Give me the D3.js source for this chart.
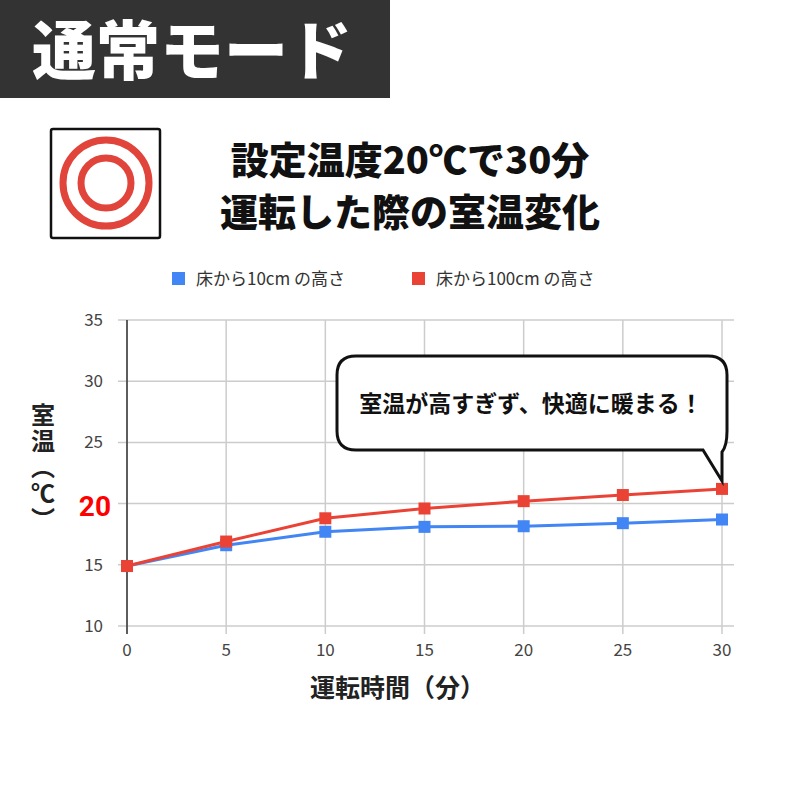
<!DOCTYPE html>
<html><head><meta charset="utf-8">
<script src="https://cdn.jsdelivr.net/npm/d3@7"></script>
<style>body{margin:0;background:#fff}text{font-family:"Noto Sans CJK JP","Noto Sans",sans-serif}</style>
</head><body>
<svg id="c" width="800" height="800"></svg>
<script>
const minutes = [0, 5, 10, 15, 20, 25, 30];
const low10 = [14.9, 16.6, 17.7, 18.1, 18.15, 18.4, 18.7];
const high100 = [14.9, 16.9, 18.8, 19.6, 20.2, 20.7, 21.2];
const seriesNames = ["床から10cmの高さ", "床から100cmの高さ"];
const colors = ["#4285f4", "#ea4335"];
const yTicks = [10, 15, 20, 25, 30, 35];

const svg = d3.select('#c');
svg.append('rect').attr('width', 800).attr('height', 800).attr('fill', '#fff');

// header
svg.append('rect').attr('x', 0).attr('y', 0).attr('width', 390).attr('height', 98).attr('fill', '#333');
svg.append('text').attr('x', 192).attr('y', 74).attr('text-anchor', 'middle')
  .attr('fill', '#fff').attr('font-size', 64).attr('font-weight', 900).text('通常モード');

// icon
svg.append('rect').attr('x', 51).attr('y', 129).attr('width', 109).attr('height', 109)
  .attr('fill', '#fff').attr('stroke', '#111').attr('stroke-width', 2.5).attr('rx', 2);
[43, 25].forEach(r => svg.append('circle').attr('cx', 106).attr('cy', 183).attr('r', r)
  .attr('fill', 'none').attr('stroke', '#e0443a').attr('stroke-width', 7));

// title
svg.append('text').attr('x', 410).attr('y', 174).attr('text-anchor', 'middle')
  .attr('font-size', 38).attr('font-weight', 900).attr('fill', '#111').text('設定温度20℃で30分');
svg.append('text').attr('x', 410).attr('y', 226).attr('text-anchor', 'middle')
  .attr('font-size', 38).attr('font-weight', 900).attr('fill', '#111').text('運転した際の室温変化');

// legend
const lg = [[172, 0], [412, 1]];
lg.forEach(([lx, i]) => {
  svg.append('rect').attr('x', lx).attr('y', 272).attr('width', 13).attr('height', 13).attr('fill', colors[i]);
  svg.append('text').attr('x', lx + 24).attr('y', 285).attr('font-size', 17).attr('fill', '#333')
    .text(seriesNames[i].replace('cm', 'cm '));
});

const x = d3.scaleLinear().domain([0, 30]).range([127, 722]);
const y = d3.scaleLinear().domain([10, 35]).range([626, 320]);

// grid
svg.append('g').selectAll('line').data(yTicks).join('line')
  .attr('x1', 118).attr('x2', 734).attr('y1', d => y(d)).attr('y2', d => y(d))
  .attr('stroke', '#ccc').attr('stroke-width', 1.5);
svg.append('g').selectAll('line').data(minutes).join('line')
  .attr('x1', d => x(d)).attr('x2', d => x(d)).attr('y1', 320).attr('y2', 634)
  .attr('stroke', '#ccc').attr('stroke-width', 1.5);
svg.append('line').attr('x1', 127).attr('x2', 127).attr('y1', 320).attr('y2', 634)
  .attr('stroke', '#333').attr('stroke-width', 1.5);

// tick labels
svg.append('g').selectAll('text').data(yTicks.filter(d => d !== 20)).join('text')
  .attr('x', 103).attr('y', d => y(d) + 6).attr('text-anchor', 'end')
  .attr('font-size', 17).attr('fill', '#444').text(d => d);
svg.append('text').attr('x', 111).attr('y', y(20) + 12).attr('text-anchor', 'end')
  .attr('font-size', 28).attr('font-weight', 700).attr('fill', '#f00')
  .style('font-family', 'Roboto').text('20');
svg.append('g').selectAll('text').data(minutes).join('text')
  .attr('x', d => x(d)).attr('y', 656).attr('text-anchor', 'middle')
  .attr('font-size', 17).attr('fill', '#444').text(d => d);

// axis titles
svg.append('text').attr('x', 310).attr('y', 697).attr('font-size', 25).attr('font-weight', 700)
  .attr('fill', '#222').text('運転時間（分）');
svg.append('text').attr('x', 43).attr('y', 403)
  .style('writing-mode', 'vertical-rl').style('letter-spacing', '2px')
  .attr('font-size', 24).attr('font-weight', 700).attr('fill', '#222').text('室温（℃）');

// series
const line = d3.line().x((d, i) => x(minutes[i])).y(d => y(d));
[low10, high100].forEach((s, k) => {
  svg.append('path').datum(s).attr('d', line).attr('fill', 'none')
    .attr('stroke', colors[k]).attr('stroke-width', 3);
  svg.append('g').selectAll('rect').data(s).join('rect')
    .attr('x', (d, i) => x(minutes[i]) - 6).attr('y', d => y(d) - 6)
    .attr('width', 12).attr('height', 12).attr('fill', colors[k]);
});

// callout
svg.append('path')
  .attr('d', 'M356,356 H708 Q727,356 727,375 V431 Q727,446 722,452 L722,481 L703,450 H356 Q337,450 337,431 V375 Q337,356 356,356 Z')
  .attr('fill', '#fff').attr('stroke', '#111').attr('stroke-width', 3);
svg.append('text').attr('x', 531).attr('y', 412).attr('text-anchor', 'middle')
  .attr('font-size', 23).attr('font-weight', 700).attr('fill', '#111').text('室温が高すぎず、快適に暖まる！');
</script>
</body></html>
